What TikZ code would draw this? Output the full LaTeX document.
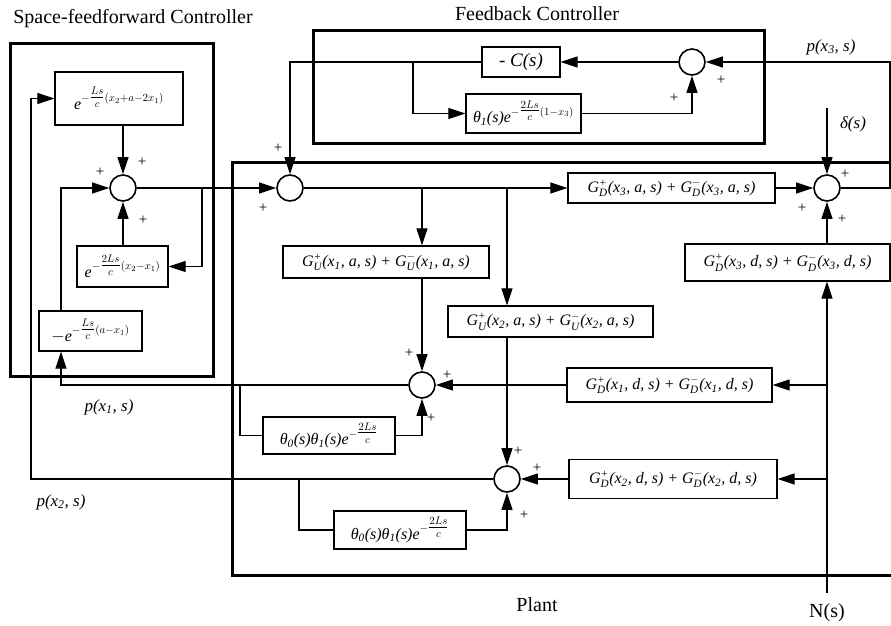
\documentclass[tikz,border=0pt]{standalone}
\usepackage{amsmath}
\usepackage{fontspec}
\setmainfont{Liberation Serif}
\usetikzlibrary{arrows.meta}

% G^+_{#1}(x_{#2}, #3, s) + G^-_{#1}(x_{#2}, #3, s)
\newcommand\gsum[3]{G$^{\text{+}}_{\text{#1}}$(x$_{\text{#2}}$, #3, s) + G$^{-}_{\text{#1}}$(x$_{\text{#2}}$, #3, s)}

\begin{document}
\begin{tikzpicture}[x=1pt,y=-1pt,
  every node/.style={font=\fontsize{17}{20}\selectfont},
  wire/.style={line width=1.2pt},
  arr/.style={wire,-{Triangle[length=17pt,width=11pt]}},
  heavy/.style={line width=3pt},
  blk/.style={draw,line width=1.3pt,inner sep=0pt,font=\fontsize{16}{19}\selectfont\itshape},
  sumc/.style={draw,circle,line width=1.6pt,minimum size=26pt,inner sep=0pt},
  sgn/.style={font=\fontsize{15}{15}\selectfont,inner sep=0pt},
  lbl/.style={font=\fontsize{17}{20}\selectfont\itshape},
  ttl/.style={font=\fontsize{20}{24}\selectfont}]
\useasboundingbox (0,0) rectangle (891,625);

% controller and plant frames
\draw[heavy] (10,43) rectangle (213,376);
\draw[heavy] (313,30) rectangle (764,143);
\draw[heavy] (893,162) -- (232,162) -- (232,575) -- (893,575);

% titles
\node[ttl] (tff) at (133,19) {Space-feedforward Controller};
\node[ttl] (tfb) at (537,14) {Feedback Controller};
\node[ttl] (tpl) at (537,605) {Plant};
\node[ttl] (nN)  at (827,613) {N(s)};

% space-feedforward blocks
\node[blk,minimum width=128pt,minimum height=53pt] (ff1) at (119,98.5) {e$^{-\tfrac{Ls}{c}(x_2+a-2x_1)}$};
\node[blk,minimum width=91pt,minimum height=41pt] (ff2) at (122.5,266.5) {e$^{-\tfrac{2Ls}{c}(x_2-x_1)}$};
\node[blk,minimum width=103pt,minimum height=40pt] (ff3) at (90.5,331) {$-$e$^{-\tfrac{Ls}{c}(a-x_1)}$};
\node[sumc] (s1) at (123,188) {};

% feedback blocks
\node[blk,minimum width=78pt,minimum height=30pt,font=\fontsize{19}{22}\selectfont\itshape] (Cb) at (521,62) {- C(s)};
\node[blk,minimum width=115pt,minimum height=39pt] (th1) at (523.5,113.5) {θ$_{\text{1}}$(s)e$^{-\tfrac{2Ls}{c}(1-x_3)}$};
\node[sumc] (sfb) at (692,62) {};

% plant blocks
\node[sumc] (s2) at (290,188) {};
\node[sumc] (s3) at (422,385) {};
\node[sumc] (s4) at (507,479) {};
\node[sumc] (s5) at (827,188) {};
\node[blk,minimum width=206pt,minimum height=32pt] (gu1) at (386,262) {\gsum{U}{1}{a}};
\node[blk,minimum width=205pt,minimum height=31pt] (gu2) at (550.5,321.5) {\gsum{U}{2}{a}};
\node[blk,minimum width=207pt,minimum height=30pt] (gd3a) at (671.5,188) {\gsum{D}{3}{a}};
\node[blk,minimum width=205pt,minimum height=37pt] (gd3d) at (787.5,262.5) {\gsum{D}{3}{d}};
\node[blk,minimum width=205pt,minimum height=34pt] (gd1d) at (669.5,385) {\gsum{D}{1}{d}};
\node[blk,minimum width=208pt,minimum height=39pt] (gd2d) at (673,479) {\gsum{D}{2}{d}};
\node[blk,minimum width=132pt,minimum height=37pt] (thA) at (329,435.5) {θ$_{\text{0}}$(s)θ$_{\text{1}}$(s)e$^{-\tfrac{2Ls}{c}}$};
\node[blk,minimum width=132pt,minimum height=38pt] (thB) at (400,530) {θ$_{\text{0}}$(s)θ$_{\text{1}}$(s)e$^{-\tfrac{2Ls}{c}}$};

% signal labels
\node[lbl] (lp3) at (831,47) {p(x$_{\text{3}}$, s)};
\node[lbl] (ld)  at (853,124) {δ(s)};
\node[lbl] (lp1) at (109,407) {p(x$_{\text{1}}$, s)};
\node[lbl] (lp2) at (61,502) {p(x$_{\text{2}}$, s)};

% junctions and corners
\coordinate (k1) at (61,188);
\coordinate (k2) at (61,385);
\coordinate (k3) at (31,479);
\coordinate (k4) at (31,98.5);
\coordinate (j1) at (202,188);
\coordinate (j2) at (240,385);
\coordinate (j3) at (299,479);
\coordinate (j4) at (422,188);
\coordinate (j5) at (507,188);
\coordinate (j6) at (827,385);
\coordinate (j7) at (827,479);
\coordinate (j8) at (413,62);
\coordinate (t1) at (290,62);
\coordinate (r1) at (890,188);
\coordinate (r2) at (890,62);
\coordinate (dtop) at (827,108);
\coordinate (ntop) at (827,593);

% space-feedforward controller wiring
\draw[arr] (ff1.south -| s1) -- (s1);
\draw[arr] (ff2.north -| s1) -- (s1);
\draw[arr] (ff3.north -| k1) -- (k1) -- (s1);
\draw[arr] (j1) |- (ff2.east);
\draw[arr] (s1) -- (s2);
\draw[arr] (s3) -- (k2) -- (ff3.south -| k2);
\draw[arr] (s4) -- (k3) -- (k4) -- (ff1.west);

% feedback controller wiring
\draw[arr] (s5) -- (r1) -- (r2) -- (sfb);
\draw[arr] (sfb) -- (Cb.east);
\draw[arr] (th1.east) -| (sfb.south);
\draw[arr] (Cb.west) -- (t1) -- (s2);
\draw[arr] (j8) |- (th1.west);

% plant wiring
\draw[arr] (s2) -- (gd3a.west);
\draw[arr] (j4) -- (j4 |- gu1.north);
\draw[arr] (j5) -- (j5 |- gu2.north);
\draw[arr] (gu1.south -| s3) -- (s3);
\draw[arr] (gu2.south -| s4) -- (s4);
\draw[wire] (j2) |- (thA.west);
\draw[arr] (thA.east) -| (s3.south);
\draw[wire] (j3) |- (thB.west);
\draw[arr] (thB.east) -| (s4.south);
\draw[arr] (gd3a) -- (s5);
\draw[arr] (gd3d.north -| s5) -- (s5);
\draw[arr] (dtop) -- (s5);
\draw[arr] (ntop) -- (ntop |- gd3d.south);
\draw[arr] (j6) -- (gd1d.east);
\draw[arr] (j7) -- (gd2d.east);
\draw[arr] (gd1d) -- (s3);
\draw[arr] (gd2d) -- (s4);

% summing-junction signs
\foreach \p in {(142,162),(100,172),(143,220),(278,148),(263,208),
                (674,98),(721,80),(845,174),(802,208),(842,219),
                (409,353),(447,375),(431,418),(518,451),(537,468),(524,515)}
  \node[sgn] at \p {+};
\end{tikzpicture}
\end{document}
